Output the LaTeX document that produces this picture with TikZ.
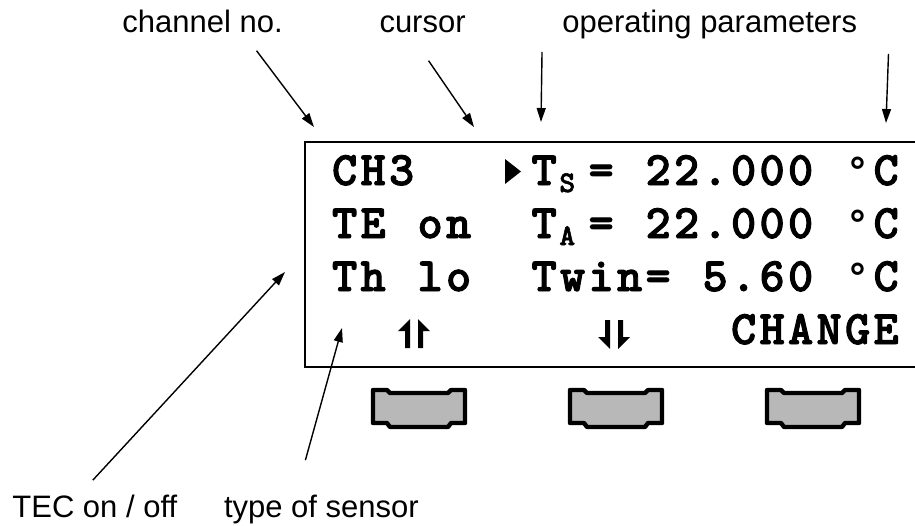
\documentclass[tikz,border=0pt]{standalone}
\usepackage{fontspec}
\setmainfont{Liberation Sans}
\newfontfamily\lcdfont{lmmonolt10-bold.otf}[FakeBold=2]
\newfontfamily\degfont{DejaVu Sans}
\usetikzlibrary{positioning, arrows.meta}

% one character per display cell
\newcommand\lcdcell[1]{\makebox[14.25pt]{#1}}
\newcommand\lcdstr[1]{\lcdstrloop#1\relax}
\newcommand\lcdstrloop[1]{\ifx\relax#1\else\lcdcell{#1}\expandafter\lcdstrloop\fi}
\newcommand\lcddeg{{\degfont\bfseries\fontsize{19}{19}\selectfont °}}
\newcommand\lcdpitch{28.5}
\newcommand\lcdleft{330}

\begin{document}
\begin{tikzpicture}[
    x=0.5pt, y=-0.5pt,
    note/.style={
        inner sep=0pt,
        font=\fontsize{15.5}{18}\selectfont
    },
    lcdtext/.style={
        inner sep=0pt,
        anchor=base west,
        font=\lcdfont\fontsize{24}{28}\selectfont
    },
    lcdsub/.style={
        inner sep=0pt,
        anchor=base west,
        font=\lcdfont\fontsize{15}{17}\selectfont
    },
    arrow/.style={
        -{Triangle[length=7pt,width=4.5pt]},
        line width=0.7pt
    },
    lcdframe/.style={
        draw,
        line width=1.3pt
    },
    key/.style={
        draw,
        line width=2.2pt,
        line join=round,
        fill=black!28
    }
]
\useasboundingbox (0,0) rectangle (915,525);

% Labels
\node[note, anchor=base west] (chan) at (122,32) {channel no.};
\node[note, base right=48pt of chan] (curs) {cursor};
\node[note, base right=48pt of curs] (oppar) {operating parameters};
\node[note, anchor=base west] (tec) at (12,517) {TEC on / off};
\node[note, base right=23pt of tec] (sens) {type of sensor};

% Display
\draw[lcdframe] (305,142) rectangle (930,367);

\node[lcdtext] (ch) at ({\lcdleft+0*\lcdpitch},185) {\lcdstr{CH3}};
\fill (505,159) -- (521,171.5) -- (505,184) -- cycle;
\node[lcdtext] (ts) at ({\lcdleft+7*\lcdpitch},185) {\lcdstr{T}};
\node[lcdsub] (tssub) at (559,192) {S};
\node[lcdtext] (eq1) at ({\lcdleft+9*\lcdpitch},185) {\lcdstr{=}};
\node[lcdtext] (val1) at ({\lcdleft+11*\lcdpitch},185) {\lcdstr{22.000}};
\node[lcdtext] (unit1) at ({\lcdleft+18*\lcdpitch},185) {\lcdstr{\lcddeg C}};

\node[lcdtext] (te) at ({\lcdleft+0*\lcdpitch},238) {\lcdstr{TE}};
\node[lcdtext] (teon) at ({\lcdleft+3*\lcdpitch},238) {\lcdstr{on}};
\node[lcdtext] (ta) at ({\lcdleft+7*\lcdpitch},238) {\lcdstr{T}};
\node[lcdsub] (tasub) at (559,245) {A};
\node[lcdtext] (eq2) at ({\lcdleft+9*\lcdpitch},238) {\lcdstr{=}};
\node[lcdtext] (val2) at ({\lcdleft+11*\lcdpitch},238) {\lcdstr{22.000}};
\node[lcdtext] (unit2) at ({\lcdleft+18*\lcdpitch},238) {\lcdstr{\lcddeg C}};

\node[lcdtext] (th) at ({\lcdleft+0*\lcdpitch},291) {\lcdstr{Th}};
\node[lcdtext] (thlo) at ({\lcdleft+3*\lcdpitch},291) {\lcdstr{lo}};
\node[lcdtext] (twin) at ({\lcdleft+7*\lcdpitch},291) {\lcdstr{Twin=}};
\node[lcdtext] (val3) at ({\lcdleft+13*\lcdpitch},291) {\lcdstr{5.60}};
\node[lcdtext] (unit3) at ({\lcdleft+18*\lcdpitch},291) {\lcdstr{\lcddeg C}};

% soft key labels
\fill (405,348) -- (405,331) -- (398,331) -- (410,319) -- (410,348) -- cycle;
\fill (423,348) -- (423,331) -- (430,331) -- (418,319) -- (418,348) -- cycle;
\fill (605,320) -- (605,337) -- (598,337) -- (610,349) -- (610,320) -- cycle;
\fill (623,320) -- (623,337) -- (630,337) -- (618,349) -- (618,320) -- cycle;
\node[lcdtext] (change) at ({\lcdleft+14*\lcdpitch},344) {\lcdstr{CHANGE}};

% Keys
\foreach \k in {373,570,767}
    \draw[key] (\k,390) -- (\k+14,390) -- (\k+17,393) -- (\k+75,393) -- (\k+78,390)
        -- (\k+92,390) -- (\k+92,423) -- (\k+78,423) -- (\k+75,427) -- (\k+17,427)
        -- (\k+14,423) -- (\k,423) -- cycle;

% Arrows
\coordinate (chTip) at (314,127);
\coordinate (cursTip) at (474,127);
\coordinate (parTipA) at (541,122);
\coordinate (parTipB) at (886,123);
\coordinate (tecTip) at (285,272);
\coordinate (sensTip) at (342,328);

\draw[arrow] ([xshift=27pt,yshift=-9pt]chan.south) -- (chTip);
\draw[arrow] ([xshift=3pt,yshift=-14pt]curs.south) -- (cursTip);
\draw[arrow] ([xshift=-10pt,yshift=-6.5pt]oppar.south west) -- (parTipA);
\draw[arrow] ([xshift=15.5pt,yshift=-7.5pt]oppar.south east) -- (parTipB);
\draw[arrow] ([xshift=-1pt,yshift=7pt]tec.north) -- (tecTip);
\draw[arrow] ([xshift=-8pt,yshift=17pt]sens.north) -- (sensTip);

\end{tikzpicture}
\end{document}
